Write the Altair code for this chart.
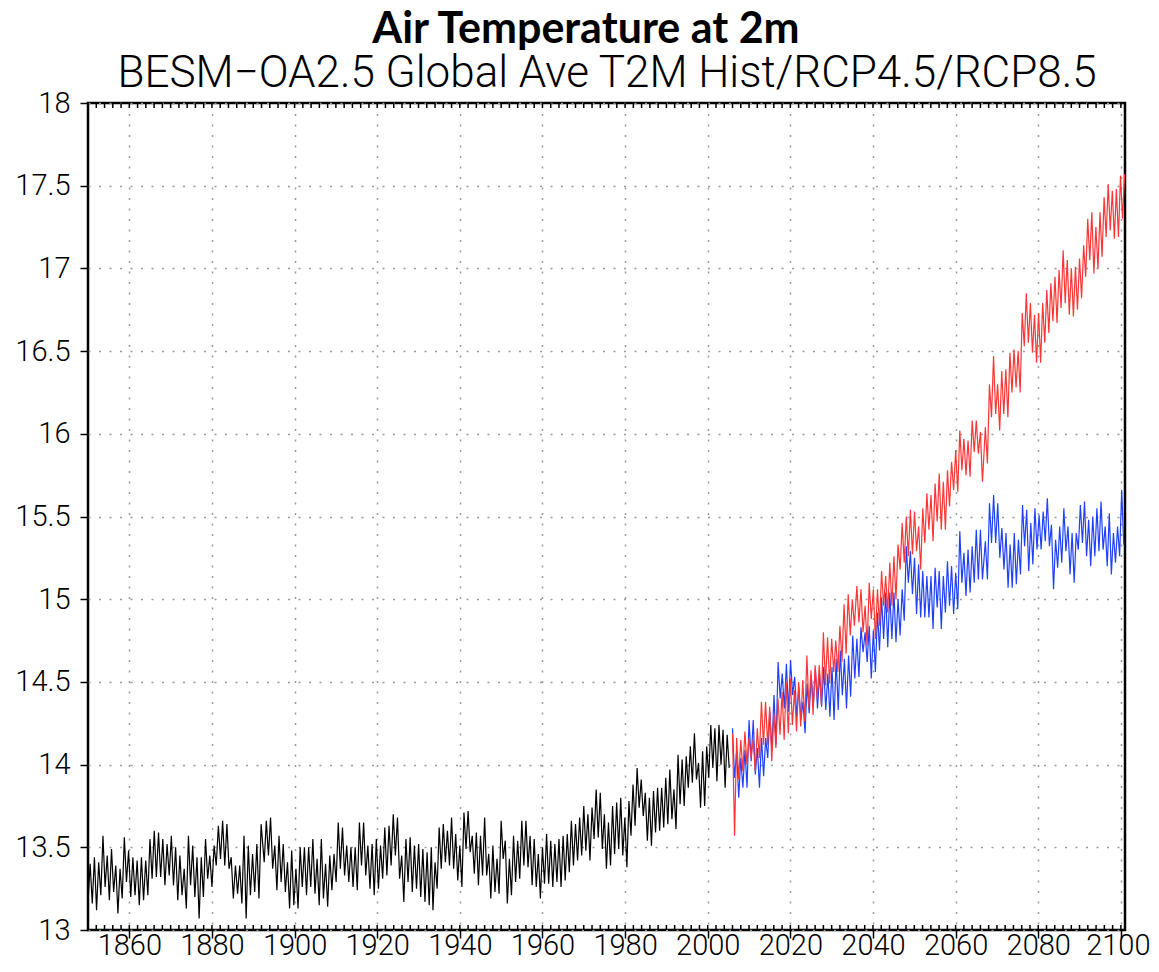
import altair as alt
import numpy as np
import pandas as pd

TITLE = "Air Temperature at 2m"
SUBTITLE = "BESM\u2212OA2.5 Global Ave T2M Hist/RCP4.5/RCP8.5"

X_TICKS = [1860, 1880, 1900, 1920, 1940, 1960, 1980, 2000, 2020, 2040, 2060, 2080, 2100]
X_MINOR = list(range(1850, 2101, 2))
Y_TICKS = [13, 13.5, 14, 14.5, 15, 15.5, 16, 16.5, 17, 17.5, 18]

# ---- Historical run (black): alternating trough/peak values
HIST_A_SPAN = [1850.0, 1891.9]
HIST_A = [13.17, 13.40, 13.16, 13.44, 13.12, 13.41, 13.21, 13.57, 13.26, 13.45, 13.18, 13.49,
          13.23, 13.39, 13.10, 13.37, 13.19, 13.56, 13.29, 13.48, 13.20, 13.44, 13.21, 13.42,
          13.15, 13.44, 13.18, 13.42, 13.21, 13.55, 13.31, 13.60, 13.32, 13.59, 13.32, 13.55,
          13.27, 13.52, 13.33, 13.57, 13.27, 13.50, 13.18, 13.45, 13.21, 13.37, 13.13, 13.57,
          13.27, 13.51, 13.20, 13.44, 13.07, 13.44, 13.20, 13.55, 13.31, 13.45, 13.26, 13.51,
          13.39, 13.63, 13.43, 13.66, 13.39, 13.64, 13.37, 13.44, 13.19, 13.39, 13.22, 13.39,
          13.16, 13.57, 13.07, 13.51, 13.21, 13.46, 13.23, 13.52, 13.19, 13.64]
HIST_B_SPAN = [1892.65, 1933.1]
HIST_B = [13.41, 13.66, 13.45, 13.68, 13.37, 13.51, 13.24, 13.57, 13.29, 13.52, 13.23, 13.41,
          13.13, 13.48, 13.15, 13.37, 13.13, 13.50, 13.26, 13.50, 13.21, 13.50, 13.26, 13.55,
          13.22, 13.43, 13.15, 13.55, 13.19, 13.40, 13.14, 13.45, 13.24, 13.46, 13.29, 13.65,
          13.37, 13.62, 13.33, 13.51, 13.29, 13.50, 13.26, 13.50, 13.24, 13.65, 13.39, 13.65,
          13.33, 13.51, 13.25, 13.52, 13.21, 13.55, 13.25, 13.51, 13.31, 13.62, 13.33, 13.63,
          13.39, 13.70, 13.45, 13.68, 13.31, 13.45, 13.17, 13.55, 13.29, 13.56, 13.23, 13.51,
          13.25, 13.52, 13.20, 13.49, 13.17, 13.47, 13.15, 13.50]
HIST_C_SPAN = [1933.5, 1973.0]
HIST_C = [13.12, 13.41, 13.25, 13.62, 13.37, 13.64, 13.41, 13.60, 13.39, 13.68, 13.37, 13.58,
          13.30, 13.51, 13.26, 13.71, 13.49, 13.72, 13.47, 13.57, 13.34, 13.59, 13.27, 13.57,
          13.33, 13.68, 13.33, 13.46, 13.19, 13.51, 13.23, 13.43, 13.22, 13.66, 13.43, 13.54,
          13.16, 13.43, 13.21, 13.57, 13.29, 13.54, 13.31, 13.66, 13.39, 13.66, 13.38, 13.57,
          13.27, 13.55, 13.26, 13.46, 13.19, 13.50, 13.28, 13.58, 13.28, 13.54, 13.26, 13.52,
          13.29, 13.55, 13.26, 13.57, 13.30, 13.58, 13.35, 13.66, 13.39, 13.64, 13.42, 13.68,
          13.45, 13.75, 13.48, 13.70, 13.42, 13.74, 13.55, 13.85]
HIST_D_SPAN = [1973.5, 2005.2]
HIST_D = [13.56, 13.83, 13.49, 13.70, 13.37, 13.65, 13.39, 13.75, 13.46, 13.77, 13.49, 13.80,
          13.45, 13.68, 13.38, 13.78, 13.57, 13.88, 13.63, 13.98, 13.74, 13.91, 13.69, 13.83,
          13.54, 13.80, 13.51, 13.84, 13.59, 13.86, 13.60, 13.86, 13.62, 13.92, 13.64, 13.97,
          13.67, 13.85, 13.61, 14.06, 13.76, 14.03, 13.75, 14.05, 13.86, 14.11, 13.89, 14.19,
          13.91, 14.01, 13.74, 14.08, 13.75, 14.11, 13.92, 14.24, 13.98, 14.22, 13.90, 14.24,
          14.00, 14.21, 13.86, 14.18, 13.98]

# ---- RCP8.5 (red)
RCP85_A_SPAN = [2006.0, 2035.5]
RCP85_A = [14.19, 13.57, 14.16, 13.91, 14.15, 13.96, 14.20, 14.00, 14.16, 14.04, 14.15, 13.96,
           14.22, 14.04, 14.38, 14.12, 14.38, 14.12, 14.35, 14.02, 14.31, 14.10, 14.40, 14.18,
           14.44, 14.15, 14.50, 14.19, 14.52, 14.24, 14.45, 14.20, 14.50, 14.23, 14.51, 14.26,
           14.66, 14.34, 14.57, 14.30, 14.60, 14.40, 14.60, 14.36, 14.80, 14.48, 14.77, 14.49,
           14.76, 14.56, 14.75, 14.56, 14.84, 14.62, 14.97, 14.67, 15.03, 14.78, 15.00, 14.84]
RCP85_B_SPAN = [2036.1, 2066.5]
RCP85_B = [15.08, 14.86, 15.06, 14.80, 14.96, 14.72, 15.10, 14.88, 15.06, 14.76, 15.06, 14.84,
           15.17, 14.96, 15.14, 14.92, 15.22, 14.96, 15.26, 15.00, 15.33, 15.18, 15.46, 15.22,
           15.50, 15.26, 15.54, 15.27, 15.53, 15.29, 15.44, 15.18, 15.55, 15.34, 15.64, 15.42,
           15.63, 15.35, 15.70, 15.47, 15.76, 15.42, 15.71, 15.42, 15.78, 15.56, 15.83, 15.66,
           15.90, 15.65, 16.02, 15.78, 15.97, 15.75, 15.96, 15.74, 16.08, 15.89, 16.08, 15.88,
           16.01, 15.71]
RCP85_C_SPAN = [2067.2, 2100.9]
RCP85_C = [16.04, 15.82, 16.30, 16.10, 16.47, 16.12, 16.30, 16.02, 16.38, 16.12, 16.39, 16.10,
           16.49, 16.25, 16.51, 16.28, 16.50, 16.25, 16.73, 16.53, 16.85, 16.55, 16.79, 16.49,
           16.72, 16.43, 16.73, 16.43, 16.79, 16.55, 16.87, 16.61, 16.91, 16.68, 16.95, 16.67,
           16.99, 16.76, 17.11, 16.79, 17.05, 16.72, 17.00, 16.71, 17.01, 16.75, 17.06, 16.82,
           17.14, 16.95, 17.30, 17.05, 17.34, 16.97, 17.25, 17.00, 17.34, 17.07, 17.43, 17.19,
           17.51, 17.23, 17.47, 17.18, 17.48, 17.19, 17.56, 17.30, 17.57]

# ---- RCP4.5 (blue)
RCP45_A_SPAN = [2006.0, 2035.6]
RCP45_A = [14.22, 13.92, 14.08, 13.80, 14.04, 13.86, 14.09, 13.86, 14.27, 14.02, 14.27, 13.94,
           14.10, 13.86, 14.16, 13.93, 14.16, 14.04, 14.32, 14.08, 14.42, 14.12, 14.62, 14.40,
           14.55, 14.34, 14.61, 14.32, 14.63, 14.42, 14.53, 14.29, 14.47, 14.27, 14.38, 14.19,
           14.49, 14.31, 14.54, 14.36, 14.58, 14.34, 14.55, 14.35, 14.59, 14.33, 14.55, 14.29,
           14.59, 14.27, 14.64, 14.33, 14.69, 14.42, 14.64, 14.34, 14.66, 14.41, 14.78, 14.52]
RCP45_B_SPAN = [2036.1, 2066.5]
RCP45_B = [14.76, 14.53, 14.83, 14.68, 14.80, 14.62, 14.84, 14.52, 14.81, 14.56, 14.92, 14.69,
           15.01, 14.76, 15.04, 14.71, 15.04, 14.76, 15.04, 14.74, 15.00, 14.78, 15.06, 14.87,
           15.32, 15.10, 15.29, 15.03, 15.25, 14.91, 15.21, 14.89, 15.17, 14.89, 15.14, 14.89,
           15.14, 14.82, 15.19, 14.95, 15.17, 14.82, 15.14, 14.92, 15.23, 14.96, 15.20, 14.91,
           15.16, 14.94, 15.41, 15.10, 15.28, 15.02, 15.30, 15.04, 15.32, 15.10, 15.42, 15.12,
           15.42, 15.12]
RCP45_C_SPAN = [2067.2, 2100.7]
RCP45_C = [15.35, 15.12, 15.58, 15.34, 15.63, 15.34, 15.58, 15.25, 15.43, 15.18, 15.40, 15.07,
           15.33, 15.07, 15.40, 15.09, 15.36, 15.15, 15.57, 15.32, 15.54, 15.17, 15.46, 15.21,
           15.55, 15.30, 15.51, 15.30, 15.53, 15.35, 15.61, 15.32, 15.45, 15.06, 15.36, 15.19,
           15.44, 15.22, 15.55, 15.29, 15.44, 15.15, 15.40, 15.10, 15.40, 15.30, 15.57, 15.34,
           15.59, 15.26, 15.48, 15.20, 15.50, 15.26, 15.55, 15.29, 15.59, 15.30, 15.44, 15.20,
           15.52, 15.15, 15.40, 15.22, 15.44, 15.26, 15.66, 15.33]


def series_frame(segments, name):
    parts = []
    for vals, span in segments:
        t = np.linspace(span[0], span[1], len(vals))
        parts.append(pd.DataFrame({"t": t, "v": vals, "s": name}))
    return pd.concat(parts, ignore_index=True)


hist = series_frame([(HIST_A, HIST_A_SPAN), (HIST_B, HIST_B_SPAN),
                     (HIST_C, HIST_C_SPAN), (HIST_D, HIST_D_SPAN)], "Hist")
rcp85 = series_frame([(RCP85_A, RCP85_A_SPAN), (RCP85_B, RCP85_B_SPAN),
                      (RCP85_C, RCP85_C_SPAN)], "RCP8.5")
rcp45 = series_frame([(RCP45_A, RCP45_A_SPAN), (RCP45_B, RCP45_B_SPAN),
                      (RCP45_C, RCP45_C_SPAN)], "RCP4.5")

W, H = 1037, 827
XSCALE = alt.Scale(domain=[1850, 2101], nice=False, zero=False)
YSCALE = alt.Scale(domain=[13, 18], nice=False, zero=False)
LABEL_FONT = "Roboto"

x_main = alt.X("t:Q", scale=XSCALE, title=None,
               axis=alt.Axis(values=X_TICKS, format="d", orient="bottom", domain=False,
                             grid=True, gridColor="#9a9a9a", gridDash=[2, 8.5], gridWidth=1.5,
                             tickSize=8, tickWidth=1.5, tickColor="black",
                             labelFont=LABEL_FONT, labelFontWeight=300, labelFontSize=29,
                             labelColor="black", labelBaseline="alphabetic", labelPadding=16,
                             labelOffset={"condition": {"test": "datum.value == 2100",
                                                        "value": -3}, "value": 0},
                             labelFlush=False, labelOverlap=False))
y_main = alt.Y("v:Q", scale=YSCALE, title=None,
               axis=alt.Axis(values=Y_TICKS, format="~g", orient="left", domain=False,
                             grid=True, gridColor="#9a9a9a", gridDash=[2, 8.5], gridWidth=1.5,
                             tickSize=8, tickWidth=1.5, tickColor="black",
                             labelFont=LABEL_FONT, labelFontWeight=300, labelFontSize=29,
                             labelColor="black", labelPadding=10, labelFlush=False,
                             labelOverlap=False))

hist_line = alt.Chart(hist).mark_line(color="black", strokeWidth=1.2).encode(x=x_main, y=y_main)
blue_line = alt.Chart(rcp45).mark_line(color="#2040ff", strokeWidth=1.2).encode(
    x=alt.X("t:Q", scale=XSCALE), y=alt.Y("v:Q", scale=YSCALE))
red_line = alt.Chart(rcp85).mark_line(color="#ff3535", strokeWidth=1.2).encode(
    x=alt.X("t:Q", scale=XSCALE), y=alt.Y("v:Q", scale=YSCALE))

# small inward minor ticks (every 2 years) along the bottom and top of the frame
minor_df = pd.DataFrame({"t": X_MINOR})
minor_bottom = alt.Chart(minor_df).mark_rule(color="black", strokeWidth=1.5).encode(
    x=alt.X("t:Q", scale=XSCALE), y=alt.value(H - 5), y2=alt.value(H))
minor_top = alt.Chart(minor_df).mark_rule(color="black", strokeWidth=1.5).encode(
    x=alt.X("t:Q", scale=XSCALE), y=alt.value(0), y2=alt.value(5))

title_layer = alt.Chart(pd.DataFrame({"label": [TITLE]})).mark_text(
    font="Lato", fontSize=43, fontWeight="bold", align="center", baseline="alphabetic",
    color="black").encode(x=alt.value(498), y=alt.value(-60), text="label:N")
subtitle_layer = alt.Chart(pd.DataFrame({"label": [SUBTITLE]})).mark_text(
    font=LABEL_FONT, fontSize=44, fontWeight=300, align="center", baseline="alphabetic",
    color="black").encode(x=alt.value(519), y=alt.value(-16), text="label:N")

chart = alt.layer(
    hist_line, blue_line, red_line, minor_bottom, minor_top, title_layer, subtitle_layer
).properties(
    width=W, height=H,
    autosize=alt.AutoSizeParams(type="none"),
    padding={"left": 80, "top": 95, "right": 26, "bottom": 30},
    background="white",
).configure_view(stroke="black", strokeWidth=2.5)

chart.save("out.html", embed_options={"renderer": "svg", "actions": False})
